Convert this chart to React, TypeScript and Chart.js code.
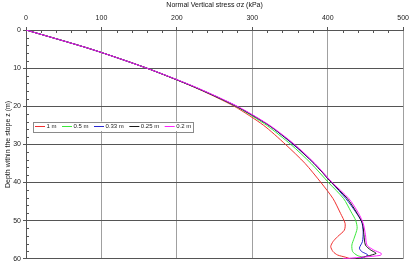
import React, { useEffect, useRef } from 'react';
import { Chart, registerables } from 'chart.js';

Chart.register(...registerables);

// ---- data ----
const seriesLabels = ['1 m', '0.5 m', '0.33 m', '0.25 m', '0.2 m'];

const depth1m = [0, 5, 10, 15, 20, 25, 30, 35, 40, 44.2, 48.1, 50.7, 52.5, 54.2, 55.5, 56.8, 58.1, 59, 59.6, 60];
const stress1m = [0, 86, 160, 223, 276, 315, 344, 370, 391, 407, 417, 423, 422, 413, 407, 404, 407, 413, 424, 430];

const depth05m = [0, 5, 10, 15, 20, 25, 30, 35, 40, 44.2, 47.7, 49.9, 52, 54.6, 56.4, 58.1, 59.1, 59.6, 60];
const stress05m = [0, 86, 160, 224, 278, 319, 351, 378, 401, 421, 431, 437, 439, 435, 432, 433, 439, 446, 448];

const depth033m = [0, 5, 10, 15, 20, 25, 30, 35, 40, 44.2, 47.7, 50.3, 52.9, 55.5, 57.2, 58.1, 59, 60];
const stress033m = [0, 86, 160, 224, 279, 322, 354, 382, 405, 424, 437, 445, 447, 446, 442, 445, 453, 444];

const depth025m = [0, 5, 10, 15, 20, 25, 30, 35, 40, 44.2, 48.1, 50.7, 53.7, 56.4, 57.7, 58.6, 60];
const stress025m = [0, 86, 160, 224, 279, 322, 355, 382, 405, 426, 439, 446, 448, 450, 457, 464, 437];

const depth02m = [0, 5, 10, 15, 20, 25, 30, 35, 40, 44.2, 48.1, 50.7, 53.7, 56.4, 57.7, 58.6, 59.1, 60];
const stress02m = [0, 86, 160, 225, 280, 323, 356, 383, 406, 428, 441, 447, 450, 452, 461, 471, 470, 420];

const seriesDepths = [depth1m, depth05m, depth033m, depth025m, depth02m];
const seriesStress = [stress1m, stress05m, stress033m, stress025m, stress02m];

const xTickValues = [0, 100, 200, 300, 400, 500];
const yTickValues = [0, 10, 20, 30, 40, 50, 60];

const xTitle = 'Normal Vertical stress σz (kPa)';
const yTitle = 'Depth within the stope z (m)';

// ---- styles ----
const seriesColors = ['#f03030', '#3be83b', '#2828d0', '#1a1a1a', '#ff22ff'];
const FONT = "'Liberation Sans', Arial, sans-serif";

const minorTicksPlugin = {
  id: 'minorTicks',
  afterDraw(chart: any) {
    const { ctx, chartArea } = chart;
    const xs = chart.scales.x;
    const ys = chart.scales.y;
    ctx.save();
    ctx.strokeStyle = '#555';
    ctx.lineWidth = 1;
    ctx.beginPath();
    for (let v = xs.min; v <= xs.max; v += 20) {
      if (v % 100 === 0) continue;
      const px = Math.round(xs.getPixelForValue(v)) + 0.5;
      ctx.moveTo(px, chartArea.top);
      ctx.lineTo(px, chartArea.top + 3);
    }
    for (let v = ys.min; v <= ys.max; v += 2) {
      if (v % 10 === 0) continue;
      const py = Math.round(ys.getPixelForValue(v)) + 0.5;
      ctx.moveTo(chartArea.left, py);
      ctx.lineTo(chartArea.left + 3, py);
    }
    ctx.stroke();
    ctx.restore();
  },
};

const boxLegendPlugin = {
  id: 'boxLegend',
  afterDraw(chart: any) {
    const { ctx, chartArea } = chart;
    const boxLeft = chartArea.left + 7;
    const boxTop = chartArea.top + 91.5;
    const boxH = 9.5;
    ctx.save();
    ctx.font = `6px ${FONT}`;
    const lineLen = 10;
    const gapLT = 1.5;
    const gapEntry = 5.5;
    let x = boxLeft + 2;
    const entries: { x: number; tx: number; label: string; color: string }[] = [];
    seriesLabels.forEach((label, i) => {
      const w = ctx.measureText(label).width;
      entries.push({ x, tx: x + lineLen + gapLT, label, color: seriesColors[i] });
      x += lineLen + gapLT + w + gapEntry;
    });
    const boxW = x - gapEntry + 2 - boxLeft;
    ctx.fillStyle = '#ffffff';
    ctx.fillRect(boxLeft, boxTop, boxW, boxH);
    ctx.strokeStyle = '#8a8a8a';
    ctx.lineWidth = 1;
    ctx.strokeRect(Math.round(boxLeft) + 0.5, Math.round(boxTop) + 0.5, Math.round(boxW), Math.round(boxH));
    const cy = boxTop + boxH / 2;
    entries.forEach((e) => {
      ctx.strokeStyle = e.color;
      ctx.beginPath();
      ctx.moveTo(e.x, Math.round(cy) + 0.5);
      ctx.lineTo(e.x + lineLen, Math.round(cy) + 0.5);
      ctx.stroke();
      ctx.fillStyle = '#222';
      ctx.textBaseline = 'middle';
      ctx.textAlign = 'left';
      ctx.fillText(e.label, e.tx, cy + 0.5);
    });
    ctx.restore();
  },
};

export default function App() {
  const canvasRef = useRef<HTMLCanvasElement | null>(null);

  useEffect(() => {
    if (!canvasRef.current) return;
    const datasets = seriesLabels.map((label, i) => ({
      label,
      data: seriesDepths[i].map((d, j) => ({ x: seriesStress[i][j], y: d })),
      borderColor: seriesColors[i],
      backgroundColor: seriesColors[i],
      borderWidth: 1,
      pointRadius: 0,
      showLine: true,
      tension: 0.25,
      fill: false,
      order: seriesLabels.length - i,
    }));

    const chart = new Chart(canvasRef.current, {
      type: 'scatter',
      data: { datasets },
      options: {
        animation: false,
        responsive: true,
        maintainAspectRatio: false,
        layout: { padding: { left: 0, right: 8, top: 0, bottom: 4 } },
        plugins: {
          legend: { display: false },
          tooltip: { enabled: false },
        },
        scales: {
          x: {
            type: 'linear',
            position: 'top',
            min: 0,
            max: 500,
            afterBuildTicks: (scale: any) => {
              scale.ticks = xTickValues.map((v) => ({ value: v }));
            },
            afterFit: (scale: any) => {
              scale.height = 30;
            },
            ticks: {
              font: { family: FONT, size: 7 },
              color: '#222',
              padding: 5,
              maxRotation: 0,
            },
            grid: {
              color: '#a0a0a0',
              lineWidth: 1,
              tickLength: 3,
              tickColor: '#555',
            },
            border: { color: '#555', width: 1 },
            title: {
              display: true,
              text: xTitle,
              font: { family: FONT, size: 7 },
              color: '#111',
              padding: { top: 1, bottom: 0 },
            },
          },
          y: {
            type: 'linear',
            reverse: true,
            min: 0,
            max: 60,
            afterBuildTicks: (scale: any) => {
              scale.ticks = yTickValues.map((v) => ({ value: v }));
            },
            afterFit: (scale: any) => {
              scale.width = 26;
            },
            ticks: {
              font: { family: FONT, size: 7 },
              color: '#222',
              padding: 2,
            },
            grid: {
              color: '#555',
              lineWidth: 1,
              tickLength: 3,
              tickColor: '#555',
            },
            border: { color: '#555', width: 1 },
            title: {
              display: true,
              text: yTitle,
              font: { family: FONT, size: 7 },
              color: '#111',
              padding: { top: 4, bottom: 0 },
            },
          },
        },
      },
      plugins: [minorTicksPlugin, boxLegendPlugin],
    });
    return () => chart.destroy();
  }, []);

  return (
    <div style={{ position: 'fixed', left: 0, top: 0, width: 414, height: 265, background: '#fff' }}>
      <canvas ref={canvasRef} />
    </div>
  );
}
